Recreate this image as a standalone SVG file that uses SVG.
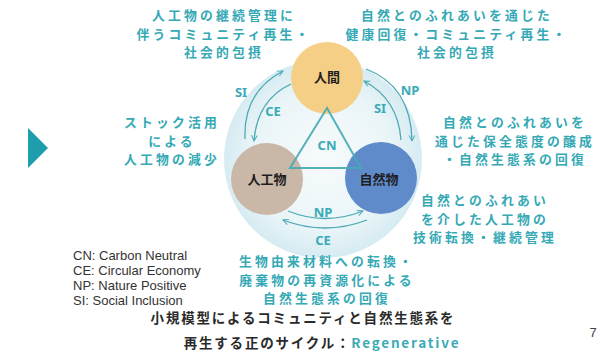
<svg xmlns="http://www.w3.org/2000/svg" width="603" height="360" viewBox="0 0 603 360">
<defs>
<radialGradient id="bg" cx="0.5" cy="0.5" r="0.5">
<stop offset="0" stop-color="#f7fbfc"/>
<stop offset="0.7" stop-color="#eaf5f8"/>
<stop offset="1" stop-color="#d6ebf2"/>
</radialGradient>
<marker id="ah" viewBox="0 0 10 10" refX="9" refY="5" markerWidth="7" markerHeight="7" orient="auto" markerUnits="userSpaceOnUse">
<path d="M1,1 L9,5 L1,9" fill="none" stroke="#4aa9b3" stroke-width="1.4"/>
</marker>
<style>
.t{font-family:"Noto Sans CJK JP","Noto Sans",sans-serif;font-weight:bold;font-size:12.8px;fill:#35a9b5;letter-spacing:3.2px;text-anchor:middle}
.lbl{font-family:"Noto Sans","Liberation Sans",sans-serif;font-weight:bold;font-size:13px;fill:#3aabb6;text-anchor:middle}
.node{font-family:"Noto Sans CJK JP",sans-serif;font-weight:bold;font-size:13px;fill:#1e1e1e;text-anchor:middle}
.leg{font-family:"Liberation Sans",Arial,sans-serif;font-size:13px;fill:#333}
.ttl{font-family:"Noto Sans CJK JP","Noto Sans",sans-serif;font-weight:bold;font-size:13.5px;fill:#2a2a2a;letter-spacing:1.8px;text-anchor:middle}
.arc{fill:none;stroke:#4aa9b3;stroke-width:1.3;marker-end:url(#ah)}
</style>
</defs>
<rect width="603" height="360" fill="#ffffff"/>
<polygon points="28,128 28,168 48,148" fill="#1e9eac"/>
<circle cx="323" cy="159" r="99" fill="url(#bg)"/>

<g id="node-ningen">
<circle cx="327" cy="78" r="36" fill="#f5cf86"/>
<text class="node" x="327" y="82">人間</text>
</g>
<g id="node-jinkoubutsu">
<circle cx="267" cy="179" r="36" fill="#c9b7a7"/>
<text class="node" x="267" y="184">人工物</text>
</g>
<g id="node-shizenbutsu">
<circle cx="381" cy="178" r="36" fill="#5f8bcb"/>
<text class="node" x="379" y="184">自然物</text>
</g>

<g id="connectors">
<polygon points="327,108 290,168 361,168" fill="none" stroke="#45aab2" stroke-width="2" stroke-opacity="0.9"/>
<path class="arc" d="M245,139 Q243,92 283,71"/>
<path class="arc" d="M291,84 Q257,100 254,141"/>
<path class="arc" d="M366,69 Q411,86 412,141"/>
<path class="arc" d="M401,140 Q398,99 364,81"/>
<path class="arc" d="M288,211 Q325,226 363,211"/>
<path class="arc" d="M367,220 Q325,236 283,220"/>
</g>

<g id="labels">
<text class="lbl" x="327" y="150">CN</text>
<text class="lbl" x="241" y="97">SI</text>
<text class="lbl" x="273" y="116">CE</text>
<text class="lbl" x="410" y="95">NP</text>
<text class="lbl" x="380" y="113">SI</text>
<text class="lbl" x="323" y="217">NP</text>
<text class="lbl" x="323" y="245">CE</text>
</g>

<g id="texts">
<text class="t" x="224" y="20">人工物の継続管理に</text>
<text class="t" x="224" y="38.5">伴うコミュニティ再生・</text>
<text class="t" x="224" y="57">社会的包摂</text>

<text class="t" x="457" y="20">自然とのふれあいを通じた</text>
<text class="t" x="457" y="38.5">健康回復・コミュニティ再生・</text>
<text class="t" x="457" y="57">社会的包摂</text>

<text class="t" x="172" y="127">ストック活用</text>
<text class="t" x="172" y="145.5">による</text>
<text class="t" x="172" y="164">人工物の減少</text>

<text class="t" x="515" y="127">自然とのふれあいを</text>
<text class="t" x="515" y="145.5">通じた保全態度の醸成</text>
<text class="t" x="515" y="164">・自然生態系の回復</text>

<text class="t" x="485" y="205">自然とのふれあい</text>
<text class="t" x="485" y="223.5">を介した人工物の</text>
<text class="t" x="485" y="242">技術転換・継続管理</text>

<text class="t" x="327" y="266">生物由来材料への転換・</text>
<text class="t" x="327" y="284.5">廃棄物の再資源化による</text>
<text class="t" x="327" y="303">自然生態系の回復</text>
</g>

<g id="legend">
<text class="leg" x="73" y="260">CN: Carbon Neutral</text>
<text class="leg" x="73" y="275">CE: Circular Economy</text>
<text class="leg" x="73" y="290">NP: Nature Positive</text>
<text class="leg" x="73" y="305">SI: Social Inclusion</text>
</g>

<g id="title">
<text class="ttl" x="303" y="323">小規模型によるコミュニティと自然生態系を</text>
<text class="ttl" x="322" y="348">再生する正のサイクル：<tspan fill="#3aabb6">Regenerative</tspan></text>
</g>
<text x="593" y="337" font-family="Liberation Sans,Arial,sans-serif" font-size="13" fill="#444" text-anchor="middle">7</text>
</svg>
